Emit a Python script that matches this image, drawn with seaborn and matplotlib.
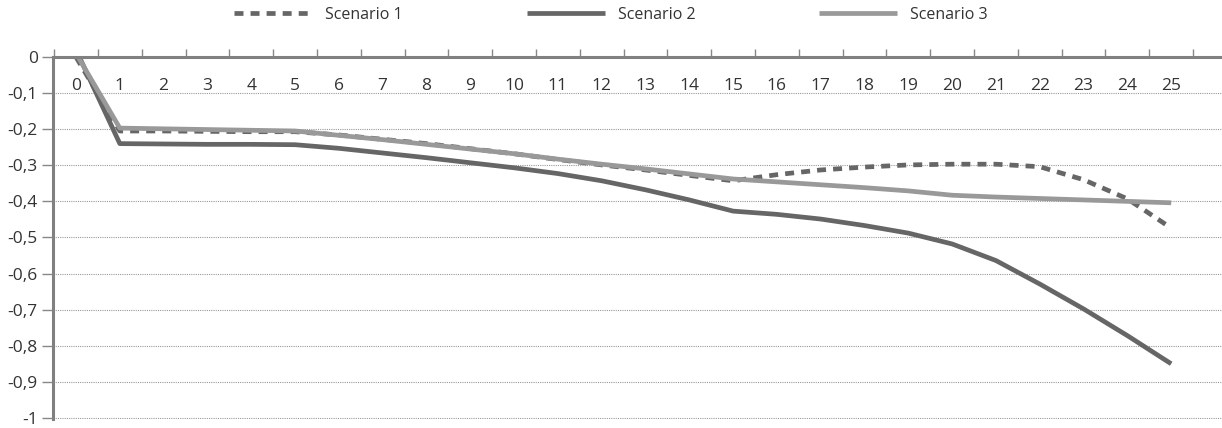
import matplotlib
matplotlib.use("Agg")
import matplotlib.pyplot as plt
import seaborn as sns
import pandas as pd
import numpy as np

# ---- data ----
years = list(range(26))
scenario_1 = [0.0, -0.205, -0.205, -0.206, -0.207, -0.207, -0.216, -0.228, -0.240, -0.254,
              -0.268, -0.284, -0.299, -0.313, -0.328, -0.343, -0.326, -0.313, -0.305, -0.299,
              -0.297, -0.297, -0.304, -0.340, -0.393, -0.474]
scenario_2 = [0.02, -0.240, -0.241, -0.242, -0.242, -0.243, -0.253, -0.266, -0.279, -0.293,
              -0.307, -0.323, -0.343, -0.368, -0.396, -0.427, -0.436, -0.449, -0.467, -0.488,
              -0.518, -0.564, -0.629, -0.698, -0.772, -0.850]
scenario_3 = [0.01, -0.197, -0.199, -0.201, -0.203, -0.205, -0.217, -0.229, -0.242, -0.255,
              -0.268, -0.283, -0.297, -0.310, -0.324, -0.338, -0.346, -0.354, -0.362, -0.371,
              -0.383, -0.388, -0.392, -0.396, -0.400, -0.404]
series_names = ["Scenario 1", "Scenario 2", "Scenario 3"]
x_labels = [str(y) for y in years]
y_ticks = [0, -0.1, -0.2, -0.3, -0.4, -0.5, -0.6, -0.7, -0.8, -0.9, -1]
y_labels = ["0", "-0,1", "-0,2", "-0,3", "-0,4", "-0,5", "-0,6", "-0,7", "-0,8", "-0,9", "-1"]

sns.set_theme(style="white")
plt.rcParams['font.family'] = ['Open Sans', 'DejaVu Sans']

fig = plt.figure(figsize=(12.22, 4.28), dpi=100)
ax = fig.add_axes([53 / 1222, 1 - 419 / 428, 1 - 53 / 1222, 362 / 428])

df = pd.DataFrame({"year": years, "Scenario 1": scenario_1,
                   "Scenario 2": scenario_2, "Scenario 3": scenario_3})

styles = {
    "Scenario 1": dict(color="#666666", linewidth=3.4, dashes=(1.9, 1.5)),
    "Scenario 2": dict(color="#666666", linewidth=3.4),
    "Scenario 3": dict(color="#999999", linewidth=3.4),
}
handles = []
for name in series_names:
    st = styles[name]
    sns.lineplot(data=df, x="year", y=name, ax=ax, color=st["color"],
                 linewidth=st["linewidth"], label=name, legend=False)
    line = ax.get_lines()[-1]
    if "dashes" in st:
        line.set_dashes(st["dashes"])
        line.set_dash_capstyle("butt")
    line.set_solid_capstyle("butt")
    handles.append(line)

ax.set_xlim(-0.525, 26.16)
ax.set_ylim(-1.003, 0)
ax.set_xlabel("")
ax.set_ylabel("")

# y axis
ax.set_yticks(y_ticks)
ax.set_yticklabels(y_labels)
ax.tick_params(axis="y", which="major", left=True, length=8, width=1, color="#888888",
               direction="out", pad=3, labelsize=12.5, labelcolor="#333333")

# x axis on top, labels inside
ax.xaxis.set_ticks_position("top")
ax.set_xticks(years)
ax.set_xticklabels(x_labels)
ax.set_xticks(np.arange(-0.5, 26, 1.0), minor=True)
ax.tick_params(axis="x", which="major", top=True, bottom=False, length=0,
               labeltop=True, labelbottom=False, pad=-27, labelsize=12.5,
               labelcolor="#333333")
ax.tick_params(axis="x", which="minor", top=True, bottom=False, length=6, width=1,
               color="#888888", direction="out")

ax.grid(False)
ax.yaxis.grid(True, linestyle=(0, (1, 1)), color="#999999", linewidth=0.8)
ax.set_axisbelow(True)

for s in ["right", "bottom"]:
    ax.spines[s].set_visible(False)
for s in ["left", "top"]:
    ax.spines[s].set_color("#808080")
    ax.spines[s].set_linewidth(2.2)
    ax.spines[s].set_zorder(5)

leg = fig.legend(handles=handles, labels=series_names, loc="center",
                 bbox_to_anchor=(0.5, 1 - 15 / 428), ncol=3, frameon=False,
                 fontsize=11.5, handlelength=4.9, handletextpad=0.8,
                 columnspacing=7.75, borderaxespad=0)
for t in leg.get_texts():
    t.set_color("#333333")

fig.savefig("out.png", dpi=100)
